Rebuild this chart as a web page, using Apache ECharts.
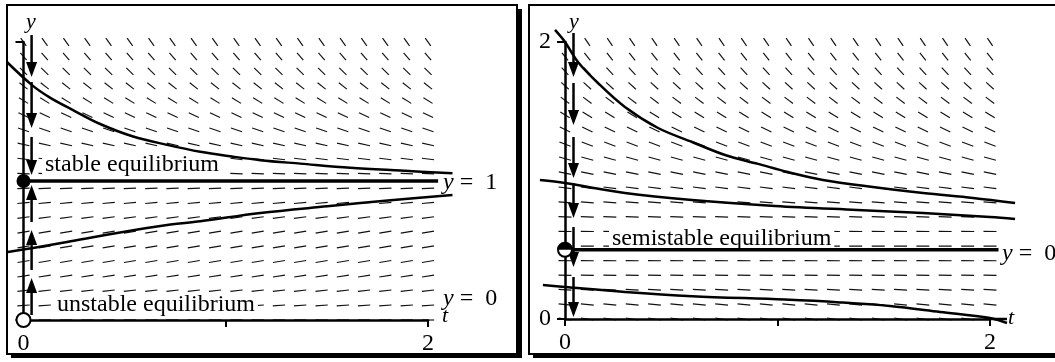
<!DOCTYPE html>
<html><head><meta charset="utf-8">
<script src="https://cdn.jsdelivr.net/npm/echarts@6/dist/echarts.min.js"></script>
<style>html,body{margin:0;padding:0;background:#fff}#c{width:1055px;height:362px}</style>
</head><body><div id="c"></div>
<script>
// ---- grid of the direction fields (t and y sample points) ----
const tGrid = [0, 0.105, 0.211, 0.316, 0.421, 0.526, 0.632, 0.737, 0.842, 0.947, 1.053, 1.158, 1.263, 1.368, 1.474, 1.579, 1.684, 1.789, 1.895, 2];
const yGrid = [0, 0.105, 0.211, 0.316, 0.421, 0.526, 0.632, 0.737, 0.842, 0.947, 1.053, 1.158, 1.263, 1.368, 1.474, 1.579, 1.684, 1.789, 1.895, 2];
// slope of each row (read from the segments), left and right panel
const slopesLeft  = [0, 0.094, 0.166, 0.216, 0.244, 0.249, 0.233, 0.194, 0.133, 0.05, -0.055, -0.183, -0.332, -0.504, -0.698, -0.914, -1.152, -1.413, -1.695, -2.0];
const slopesRight = [-0.25, -0.156, -0.084, -0.034, -0.006, -0.001, -0.017, -0.056, -0.117, -0.2, -0.305, -0.433, -0.583, -0.754, -0.948, -1.164, -1.403, -1.663, -1.946, -2.25];

// ---- solution curves (t, y) ----
const leftUpper = [[-0.082,1.856],[0.042,1.69],[0.131,1.60],[0.245,1.51],[0.379,1.41],[0.542,1.32],[0.71,1.26],[0.874,1.21],[1.037,1.175],[1.171,1.15],[1.369,1.125],[1.616,1.095],[1.864,1.075],[2.121,1.056]];
const leftLower = [[-0.077,0.489],[0.047,0.518],[0.215,0.561],[0.463,0.626],[0.71,0.683],[0.874,0.71],[1.171,0.77],[1.502,0.818],[1.829,0.863],[2.121,0.899]];
const rightTop = [[-0.047,2.087],[0,2.0],[0.061,1.856],[0.155,1.704],[0.282,1.531],[0.438,1.379],[0.598,1.278],[0.753,1.184],[0.908,1.12],[1.049,1.061],[1.214,1.004],[1.449,0.953],[1.685,0.91],[1.92,0.874],[2.118,0.838]];
const rightMid = [[-0.118,1.004],[0,0.982],[0.282,0.91],[0.598,0.859],[0.988,0.816],[1.374,0.787],[1.685,0.765],[2.0,0.736],[2.118,0.722]];
const rightLow = [[-0.104,0.245],[0,0.231],[0.282,0.195],[0.598,0.165],[1.035,0.14],[1.294,0.12],[1.529,0.094],[1.765,0.051],[2.0,0.007],[2.08,-0.029]];

// ---- equilibria ----
const leftEquilibrium = [[0,1],[2.05,1]];
const rightEquilibrium = [[0,0.5],[2.04,0.5]];
const rightAxisExtension = [[2,0],[2.08,0]];
// ---- phase-line arrows: [t, yTail, yTip] ----
const leftArrows = [[0.04,2.05,1.748],[0.04,1.712,1.381],[0.04,1.317,1.043],[0.04,0.036,0.302],[0.04,0.36,0.647],[0.04,0.705,0.971]];
const rightArrows = [[0.04,2.065,1.747],[0.04,1.704,1.401],[0.04,1.314,1.018],[0.04,0.982,0.729],[0.04,0.664,0.375],[0.04,0.303,0.014]];
// ---- equilibrium dots: [t, y, kind] kind 0 filled, 1 open, 2 half ----
const leftDots = [[0,1,0],[0,0,1]];
const rightDots = [[0,0.5,2]];

const FONT = '"Liberation Serif", "Times New Roman", serif';

function field(slopes){
  const d = [];
  for (let j = 0; j < yGrid.length; j++)
    for (let i = 0; i < tGrid.length; i++) d.push([tGrid[i], yGrid[j], slopes[j]]);
  return d;
}
function fieldItem(params, api){
  const t = api.value(0), y = api.value(1), m = api.value(2);
  const n = Math.sqrt(1 + m*m), h = 0.0305;
  const a = api.coord([t - h/n, y - h*m/n]), b = api.coord([t + h/n, y + h*m/n]);
  return {type:'line', shape:{x1:a[0],y1:a[1],x2:b[0],y2:b[1]}, style:{stroke:'#111', lineWidth:1.15}};
}
function arrowItem(params, api){
  const t = api.value(0), y0 = api.value(1), y1 = api.value(2);
  const p0 = api.coord([t,y0]), p1 = api.coord([t,y1]);
  const dir = p1[1] > p0[1] ? 1 : -1, hl = 15, hw = 5.5;
  const base = p1[1] - dir*hl;
  return {type:'group', children:[
    {type:'line', shape:{x1:p0[0],y1:p0[1],x2:p0[0],y2:base}, style:{stroke:'#000', lineWidth:2.5}},
    {type:'polygon', shape:{points:[[p1[0],p1[1]],[p1[0]-hw,base],[p1[0]+hw,base]]}, style:{fill:'#000'}}
  ]};
}
function dotItem(params, api){
  const p = api.coord([api.value(0), api.value(1)]), k = api.value(2), r = 7;
  if (k === 0) return {type:'circle', shape:{cx:p[0],cy:p[1],r:r}, style:{fill:'#000'}};
  if (k === 1) return {type:'circle', shape:{cx:p[0],cy:p[1],r:r}, style:{fill:'#fff', stroke:'#000', lineWidth:2}};
  return {type:'group', children:[
    {type:'circle', shape:{cx:p[0],cy:p[1],r:r}, style:{fill:'#fff', stroke:'#000', lineWidth:2}},
    {type:'sector', shape:{cx:p[0],cy:p[1],r:r,r0:0,startAngle:Math.PI,endAngle:2*Math.PI}, style:{fill:'#000'}}
  ]};
}
// a whole curve drawn as one polyline, every point converted through the axes
function curve(data, x, w){
  return {type:'custom', xAxisIndex:x, yAxisIndex:x, data:data, encode:{x:0,y:1}, clip:false, z:3, silent:true,
    renderItem: function(params, api){
      if (params.dataIndex !== 0) return null;
      const pts = data.map(p => api.coord(p));
      return {type:'polyline', shape:{points:pts, smooth:0.35}, style:{stroke:'#000', lineWidth:w, fill:null, lineJoin:'round'}};
    }};
}

function xAx(idx, labels){
  return {type:'value', gridIndex:idx, min:0, max:2, interval:1, z:1,
    axisLine:{show:true, lineStyle:{color:'#000', width:2.5}},
    axisTick:{show:true, inside:false, length:7, lineStyle:{color:'#000', width:2}},
    axisLabel:{show:true, margin:12, fontFamily:FONT, fontSize:24, color:'#000',
      formatter: v => labels.indexOf(v) >= 0 ? String(v) : ''},
    splitLine:{show:false}};
}
function yAx(idx, showLabels){
  return {type:'value', gridIndex:idx, min:0, max:2, interval:2, z:1,
    axisLine:{show:true, lineStyle:{color:'#000', width:2.5}},
    axisTick:{show:true, inside:false, length:8, lineStyle:{color:'#000', width:2}},
    axisLabel:{show:showLabels, margin:14, fontFamily:FONT, fontSize:24, color:'#000'},
    splitLine:{show:false}};
}

function txt(x, y, text, size){
  return {type:'text', x:x, y:y, z:2, silent:true,
    style:{text:text, fontFamily:FONT, fontSize:size||24, fill:'#000', verticalAlign:'middle',
      rich:{i:{fontStyle:'italic', fontFamily:FONT, fontSize:size||24}}}};
}
function txtBg(x, y, text){
  const t = txt(x, y, text);
  t.style.backgroundColor = '#fff';
  t.style.padding = [1, 3];
  return t;
}

const chart = echarts.init(document.getElementById('c'), null, {renderer:'canvas'});
chart.setOption({
  animation:false,
  backgroundColor:'#fff',
  grid:[
    {left:23.5, top:42, width:404.5, height:278},
    {left:565, top:42, width:425, height:277}
  ],
  xAxis:[xAx(0,[0,2]), xAx(1,[0,2])],
  yAxis:[yAx(0,false), yAx(1,true)],
  graphic:[
    {type:'rect', z:0, shape:{x:11, y:9, width:511, height:349}, style:{fill:'#000'}},
    {type:'rect', z:0, shape:{x:7, y:5, width:510, height:349}, style:{fill:'#fff', stroke:'#000', lineWidth:2}},
    {type:'rect', z:0, shape:{x:533, y:9, width:600, height:349}, style:{fill:'#000'}},
    {type:'rect', z:0, shape:{x:529, y:5, width:600, height:349}, style:{fill:'#fff', stroke:'#000', lineWidth:2}},
    txtBg(42, 165, 'stable equilibrium'),
    txtBg(54, 305, 'unstable equilibrium'),
    txtBg(609, 239, 'semistable equilibrium'),
    txt(443, 183, '{i|y} =  1'),
    txt(443, 299, '{i|y} =  0'),
    txt(1002, 254, '{i|y} =  0.5'),
    txt(26, 22, '{i|y}', 22),
    txt(569, 22, '{i|y}', 22),
    txt(442, 316, '{i|t}', 22),
    txt(1008, 318, '{i|t}', 22)
  ],
  series:[
    {type:'custom', xAxisIndex:0, yAxisIndex:0, data:field(slopesLeft), renderItem:fieldItem, encode:{x:0,y:1}, clip:false, z:1, silent:true},
    {type:'custom', xAxisIndex:1, yAxisIndex:1, data:field(slopesRight), renderItem:fieldItem, encode:{x:0,y:1}, clip:false, z:1, silent:true},
    curve(leftUpper,0,2.5), curve(leftLower,0,2.5), curve(leftEquilibrium,0,3.5),
    curve(rightTop,1,2.5), curve(rightMid,1,2.5), curve(rightLow,1,2.5), curve(rightEquilibrium,1,3.5),
    curve(rightAxisExtension,1,2.5),
    {type:'custom', xAxisIndex:0, yAxisIndex:0, data:leftArrows, renderItem:arrowItem, encode:{x:0,y:1}, clip:false, z:4, silent:true},
    {type:'custom', xAxisIndex:1, yAxisIndex:1, data:rightArrows, renderItem:arrowItem, encode:{x:0,y:1}, clip:false, z:4, silent:true},
    {type:'custom', xAxisIndex:0, yAxisIndex:0, data:leftDots, renderItem:dotItem, encode:{x:0,y:1}, clip:false, z:5, silent:true},
    {type:'custom', xAxisIndex:1, yAxisIndex:1, data:rightDots, renderItem:dotItem, encode:{x:0,y:1}, clip:false, z:5, silent:true}
  ]
});
</script></body></html>
